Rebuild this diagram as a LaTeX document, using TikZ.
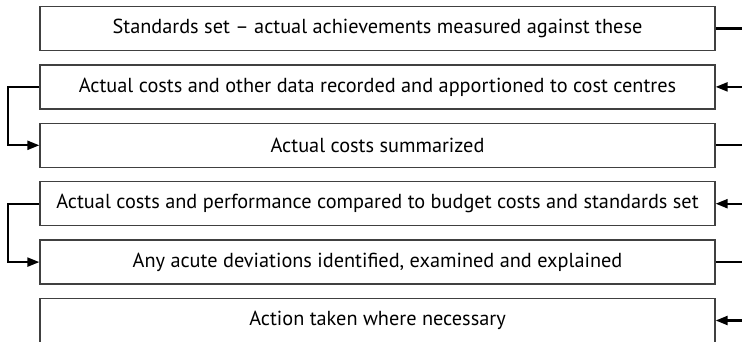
\documentclass[tikz,border=0pt]{standalone}
\usepackage{fontspec}
\setmainfont{PT Sans}
\usetikzlibrary{arrows.meta}
\begin{document}
\begin{tikzpicture}[x=1pt,y=-1pt,
  box/.style={draw=black!75, line width=1.3pt, minimum width=675pt, minimum height=44pt,
    inner sep=0pt, font=\fontsize{20.3}{24}\selectfont},
  conn/.style={line width=2.2pt},
  arr/.style={conn,-{Triangle[length=12pt,width=9pt]}}]
\useasboundingbox (0,0) rectangle (742,342);
\node[box] (b1) at (377.5,28.5) {Standards set – actual achievements measured against these};
\node[box] (b2) at (377.5,86.9) {Actual costs and other data recorded and apportioned to cost centres};
\node[box] (b3) at (377.5,145.3) {Actual costs summarized};
\node[box] (b4) at (377.5,203.7) {Actual costs and performance compared to budget costs and standards set};
\node[box] (b5) at (377.5,262.1) {Any acute deviations identified, examined and explained};
\node[box] (b6) at (377.5,320.5) {Action taken where necessary};
\coordinate (L) at (8,0);
\coordinate (R) at (745,0);
\draw[conn] (b1.east) -- (b1.east -| R);
\draw[arr] (b2.east -| R) -- (b2.east);
\draw[conn] (b3.east) -- (b3.east -| R);
\draw[arr] (b4.east -| R) -- (b4.east);
\draw[conn] (b5.east) -- (b5.east -| R);
\draw[arr] (b6.east -| R) -- (b6.east);
\draw[arr] (b2.west) -- (b2.west -| L) |- (b3.west);
\draw[arr] (b4.west) -- (b4.west -| L) |- (b5.west);
\end{tikzpicture}
\end{document}
